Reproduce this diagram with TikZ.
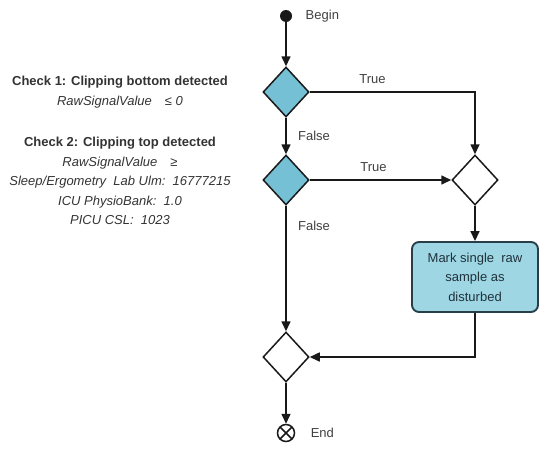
\documentclass[tikz,border=0pt]{standalone}
\usepackage{fontspec}
\setmainfont{Liberation Sans}
\usetikzlibrary{arrows.meta,positioning,shapes.geometric}
\definecolor{chkblue}{RGB}{118,192,214}
\definecolor{actblue}{RGB}{158,214,228}
\definecolor{boxline}{RGB}{40,62,72}
\definecolor{flowline}{RGB}{25,25,25}
\begin{document}
\begin{tikzpicture}[x=1pt, y=-1pt, font=\fontsize{13}{19.5}\selectfont,
      decision/.style={diamond, draw=flowline, line width=1.5pt, minimum width=46pt,
        minimum height=50pt, inner sep=0pt},
      check/.style={decision, fill=chkblue},
      action/.style={rectangle, rounded corners=7pt, draw=boxline, line width=1.9pt,
        fill=actblue, minimum width=126pt, minimum height=70pt, align=center,
        text=boxline!80!black},
      edge/.style={draw=flowline, line width=1.6pt, -{Triangle[length=10pt, width=9pt]}},
      flowtext/.style={text=black!75},
      note/.style={align=center, text=black!80}]
    \useasboundingbox (0,0) rectangle (540,450);
    % flow nodes
    \node[circle, fill=flowline, minimum size=12pt, inner sep=0pt] (begin) at (286,16) {};
    \node[flowtext, right=10pt of begin] (begintext) {Begin};
    \node[check] (bottomtest) at (286,92) {};
    \node[check] (toptest) at (286,180) {};
    \node[decision, fill=white] (join) at (475,180) {};
    \node[action] (mark) at (475,277) {Mark single\ \ raw\\sample as\\disturbed};
    \node[decision, fill=white] (merge) at (286,357) {};
    \node[circle, draw=flowline, line width=1.5pt, minimum size=17pt, inner sep=0pt,
      path picture={\draw[line width=1.5pt, flowline]
        (path picture bounding box.north west) -- (path picture bounding box.south east)
        (path picture bounding box.north east) -- (path picture bounding box.south west);}]
      (finish) at (286,433) {};
    \node[flowtext, right=12pt of finish] (endtext) {End};
    % checks
    \node[note] (checkone) at (120,92)
      {\textbf{Check 1: Clipping bottom detected}\\\textit{RawSignalValue\quad ≤ 0}};
    \node[note] (checktwo) at (120,181)
      {\textbf{Check 2: Clipping top detected}\\\textit{RawSignalValue\quad ≥}\\
       \textit{Sleep/Ergometry\ \ Lab Ulm:\ \ 16777215}\\
       \textit{ICU PhysioBank:\ \ 1.0}\\\textit{PICU CSL:\ \ 1023}};
    % connectors
    \draw[edge] (begin) -- (bottomtest);
    \draw[edge] (bottomtest.east) -| node[flowtext, pos=0.19, above=4pt] {True} (join.north);
    \draw[edge] (bottomtest) -- node[flowtext, right=8pt] {False} (toptest);
    \draw[edge] (toptest) -- node[flowtext, pos=0.45, above=4pt] {True} (join);
    \draw[edge] (toptest) -- node[flowtext, pos=0.16, right=8pt] {False} (merge);
    \draw[edge] (join) -- (mark);
    \draw[edge] (mark.south) |- (merge.east);
    \draw[edge] (merge) -- (finish);
  \end{tikzpicture}
\end{document}
